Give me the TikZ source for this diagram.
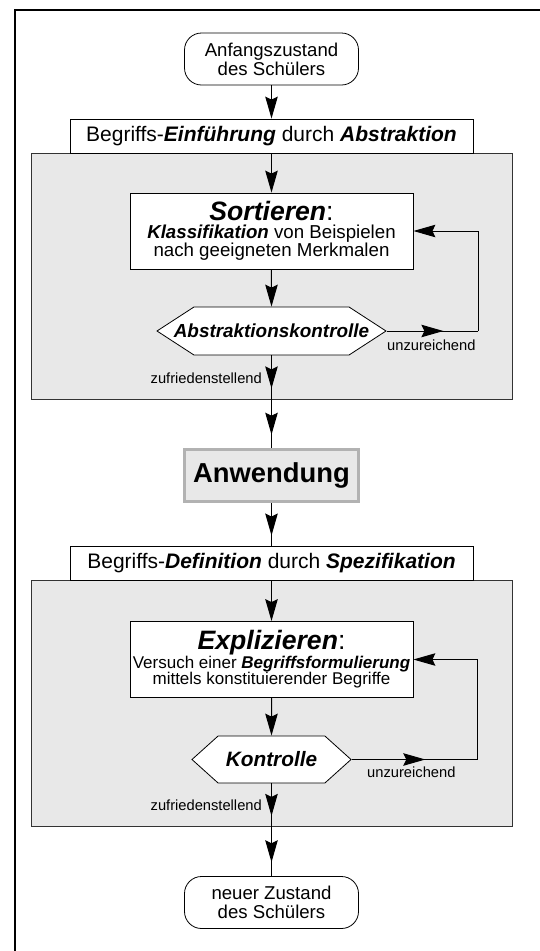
\documentclass[tikz,border=0pt]{standalone}
\usepackage{fontspec}
\setmainfont{Liberation Sans}
\usetikzlibrary{arrows.meta,shapes.symbols,decorations.markings}
\newcommand{\bfit}[1]{\textbf{\textit{#1}}}

\tikzset{
  flow/.style={line width=1pt, -{Stealth[length=22pt,width=12.5pt,inset=3pt]}},
  midflow/.style={line width=1pt, postaction={decorate},
    decoration={markings, mark=at position 0.5 with
      {\arrow[xshift=11pt]{Stealth[length=22pt,width=12.5pt,inset=3pt]}}}},
  state/.style={draw, line width=0.8pt, fill=white, rounded corners=17pt,
    minimum width=174pt, minimum height=52pt, align=center, inner sep=0pt,
    font=\fontsize{18.6}{19}\selectfont},
  panel/.style={draw=black!80, line width=0.8pt, fill=black!9,
    minimum width=481pt, minimum height=246pt, inner sep=0pt},
  headbox/.style={draw, line width=0.8pt, fill=white, minimum width=403pt,
    minimum height=34pt, inner sep=0pt, font=\fontsize{21}{24}\selectfont},
  stepbox/.style={draw, line width=0.8pt, fill=white, minimum width=283pt,
    minimum height=76pt, inner sep=0pt, align=center},
  hexbox/.style={draw, line width=0.8pt, fill=white, signal,
    signal to=west and east, inner sep=0pt},
  applybox/.style={draw=black!30, line width=3pt, fill=black!9,
    minimum width=174pt, minimum height=52pt, inner sep=0pt,
    font=\fontsize{27.4}{30}\selectfont\bfseries},
  note/.style={inner sep=0pt, font=\fontsize{14.7}{16}\selectfont}
}

\begin{document}
\begin{tikzpicture}[x=1pt, y=-1pt]
\useasboundingbox (0,0) rectangle (540,951);
\draw[line width=2pt] (15,951) -- (15,10) -- (540,10);

% Begriffseinfuehrung
\node (start) [state] at (271.5,59) {Anfangszustand\\des Schülers};
\node (panelA) [panel] at (271.5,276) {};
\node (headA) [headbox] at (271.5,136)
  {Begriffs-\bfit{Einführung} durch \bfit{Abstraktion}};
\node (sortA) [stepbox, font=\fontsize{18.7}{18}\selectfont] at (271.5,231)
  {{\fontsize{26.6}{20}\selectfont\bfit{Sortieren}:}\\
   \bfit{Klassifikation} von Beispielen\\nach geeigneten Merkmalen};
\node (checkA) [hexbox, minimum width=229pt, minimum height=48pt,
  signal pointer angle=66, font=\fontsize{18.9}{20}\selectfont]
  at (271.5,331) {\makebox[150pt][c]{\bfit{Abstraktionskontrolle}}};
\coordinate (backA) at (478,331);
\node (lowA) [note, anchor=base west] at (387,350) {unzureichend};
\node (okA) [note, anchor=base east] at (262,383) {zufriedenstellend};

\draw[flow] (start) -- (headA);
\draw[flow] (headA) -- (sortA);
\draw[flow] (sortA) -- (checkA);
\draw[midflow] (checkA.east) -- (backA);
\draw[flow] (backA) |- (sortA.east);
\draw[midflow] (checkA.south) -- (panelA.south);

% Anwendung
\node (apply) [applybox] at (271.5,475.5) {Anwendung};
\draw[midflow] (panelA.south) -- (apply.north);

% Begriffsdefinition
\node (panelB) [panel] at (271.5,703) {};
\node (headB) [headbox] at (271.5,563.5)
  {Begriffs-\bfit{Definition} durch \bfit{Spezifikation}};
\draw[midflow] (apply.south) -- (headB.north);
\node (explB) [stepbox, font=\fontsize{17}{16}\selectfont] at (271.5,659.5)
  {{\fontsize{26.6}{20}\selectfont\bfit{Explizieren}:}\\
   Versuch einer \bfit{Begriffsformulierung}\\mittels konstituierender Begriffe};
\node (checkB) [hexbox, minimum width=159pt, minimum height=47pt,
  signal pointer angle=84, font=\fontsize{20.8}{22}\selectfont]
  at (271.5,759.5) {\bfit{Kontrolle}};
\coordinate (backB) at (477,759.5);
\node (lowB) [note, anchor=base west] at (367,777) {unzureichend};
\node (okB) [note, anchor=base east] at (262,810) {zufriedenstellend};

\draw[flow] (headB) -- (explB);
\draw[flow] (explB) -- (checkB);
\draw[midflow] (checkB.east) -- (backB);
\draw[flow] (backB) |- (explB.east);
\draw[midflow] (checkB.south) -- (panelB.south);

% neuer Zustand
\node (final) [state] at (271.5,902.5) {neuer Zustand\\des Schülers};
\draw[midflow] (panelB.south) -- (final.north);
\end{tikzpicture}
\end{document}
